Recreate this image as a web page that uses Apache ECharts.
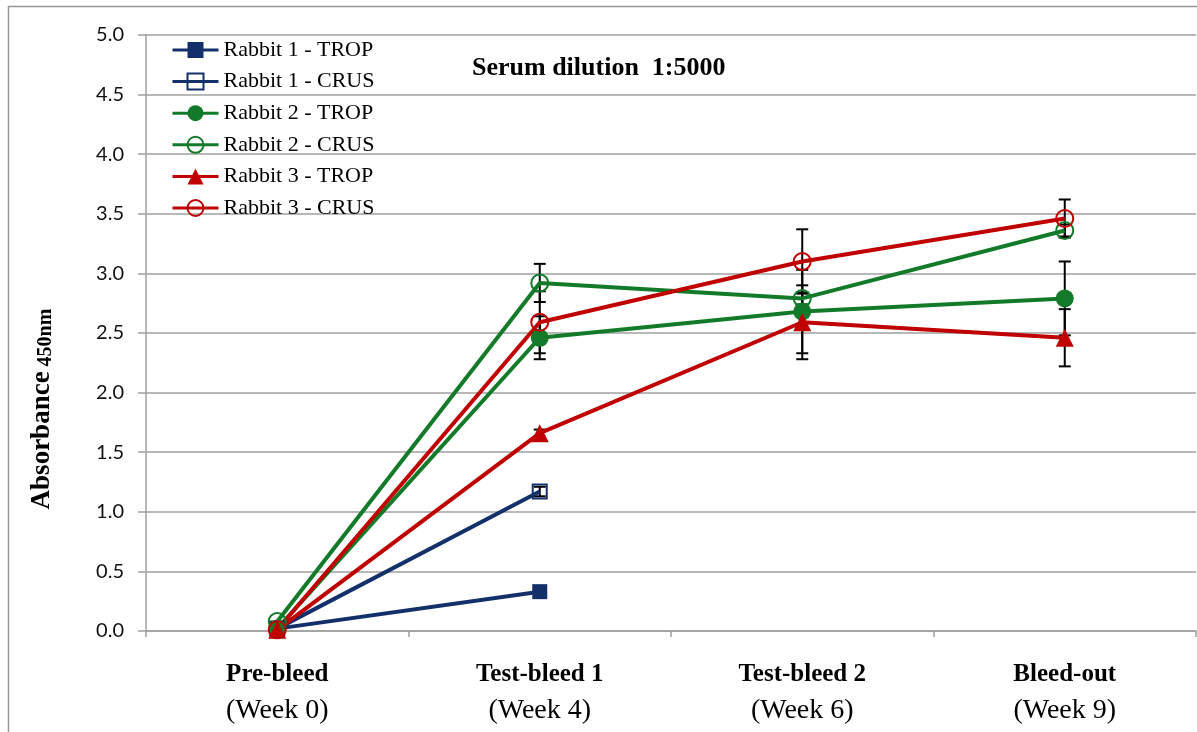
<!DOCTYPE html>
<html>
<head>
<meta charset="utf-8">
<script src="https://cdn.jsdelivr.net/npm/echarts@6/dist/echarts.min.js"></script>
<style>
  html, body { margin: 0; padding: 0; background: #fff; }
  #chart { width: 1197px; height: 732px; }
</style>
</head>
<body>
<div id="chart"></div>
<script>
// Bleed time points (bold name + week)
const bleedNames = ['Pre-bleed', 'Test-bleed 1', 'Test-bleed 2', 'Bleed-out'];
const bleedWeeks = ['(Week 0)', '(Week 4)', '(Week 6)', '(Week 9)'];

// Mean absorbance at 450 nm per rabbit / antigen
const r1Trop = [0.02, 0.33, null, null];
const r1Crus = [0.02, 1.17, null, null];
const r2Trop = [0.02, 2.46, 2.68, 2.79];
const r2Crus = [0.08, 2.92, 2.79, 3.36];
const r3Trop = [0.01, 1.66, 2.59, 2.46];
const r3Crus = [0.01, 2.59, 3.10, 3.46];

// Standard deviations (error bar half-widths)
const r1TropErr = [null, 0.02, null, null];
const r1CrusErr = [null, 0.04, null, null];
const r2TropErr = [null, 0.18, 0.35, 0.31];
const r2CrusErr = [null, 0.16, 0.05, 0.05];
const r3TropErr = [null, 0.03, 0.31, 0.24];
const r3CrusErr = [null, 0.26, 0.27, 0.16];

const yTicks = [0, 0.5, 1, 1.5, 2, 2.5, 3, 3.5, 4, 4.5, 5];

const NAVY = '#14306b';
const GREEN = '#137a2a';
const RED = '#c00000';
const GRID = '#a0a0a0';

const seriesDefs = [
  { name: 'Rabbit 1 - TROP', values: r1Trop, errs: r1TropErr, color: NAVY, symbol: 'rect', size: 15, hollow: false },
  { name: 'Rabbit 1 - CRUS', values: r1Crus, errs: r1CrusErr, color: NAVY, symbol: 'rect', size: 14, hollow: true },
  { name: 'Rabbit 2 - TROP', values: r2Trop, errs: r2TropErr, color: GREEN, symbol: 'circle', size: 18, hollow: false },
  { name: 'Rabbit 2 - CRUS', values: r2Crus, errs: r2CrusErr, color: GREEN, symbol: 'circle', size: 17, hollow: true },
  { name: 'Rabbit 3 - TROP', values: r3Trop, errs: r3TropErr, color: RED, symbol: 'triangle', size: 18, hollow: false },
  { name: 'Rabbit 3 - CRUS', values: r3Crus, errs: r3CrusErr, color: RED, symbol: 'circle', size: 17, hollow: true }
];

// Flatten error bars into [categoryIndex, low, high]
const errorData = [];
seriesDefs.forEach(function (s) {
  s.values.forEach(function (v, i) {
    const e = s.errs[i];
    if (v != null && e != null) errorData.push([i, v - e, v + e]);
  });
});

const lineSeries = seriesDefs.map(function (s) {
  return {
    name: s.name,
    type: 'line',
    data: s.values,
    symbol: s.symbol,
    symbolSize: s.size,
    showAllSymbol: true,
    connectNulls: false,
    z: 3,
    lineStyle: { color: s.color, width: 4 },
    itemStyle: s.hollow
      ? { color: 'rgba(255,255,255,0)', borderColor: s.color, borderWidth: 2 }
      : { color: s.color, borderColor: s.color, borderWidth: 0 },
    emphasis: { disabled: true }
  };
});

const errorSeries = {
  type: 'custom',
  name: 'sd',
  z: 2,
  silent: true,
  encode: { x: 0, y: [1, 2] },
  data: errorData,
  renderItem: function (params, api) {
    const x = api.value(0);
    const lo = api.coord([x, api.value(1)]);
    const hi = api.coord([x, api.value(2)]);
    const cap = 6;
    const st = { stroke: '#000', lineWidth: 2 };
    return {
      type: 'group',
      children: [
        { type: 'line', shape: { x1: lo[0], y1: lo[1], x2: hi[0], y2: hi[1] }, style: st },
        { type: 'line', shape: { x1: lo[0] - cap, y1: lo[1], x2: lo[0] + cap, y2: lo[1] }, style: st },
        { type: 'line', shape: { x1: hi[0] - cap, y1: hi[1], x2: hi[0] + cap, y2: hi[1] }, style: st }
      ]
    };
  }
};

const chart = echarts.init(document.getElementById('chart'), null, { renderer: 'canvas' });

chart.setOption({
  backgroundColor: '#fff',
  animation: false,
  grid: { left: 146, right: 1, top: 35, bottom: 101, containLabel: false },
  legend: {
    data: seriesDefs.map(function (s) { return s.name; }),
    orient: 'vertical',
    left: 166,
    top: 34,
    itemWidth: 46,
    itemHeight: 20,
    itemGap: 9.6,
    selectedMode: false,
    lineStyle: { width: 3 },
    textStyle: { fontFamily: 'Liberation Serif', fontSize: 22, color: '#000', lineHeight: 22 }
  },
  xAxis: {
    type: 'category',
    data: bleedNames.map(function (n, i) { return n + '\n' + bleedWeeks[i]; }),
    boundaryGap: true,
    axisLine: { lineStyle: { color: GRID, width: 1.5 } },
    axisTick: { show: true, length: 6, inside: false, lineStyle: { color: GRID, width: 1.5 } },
    axisLabel: {
      margin: 27,
      interval: 0,
      formatter: function (val) {
        const parts = val.split('\n');
        return '{b|' + parts[0] + '}\n{n|' + parts[1] + '}';
      },
      rich: {
        b: { fontFamily: 'Liberation Serif', fontWeight: 'bold', fontSize: 25, color: '#000', lineHeight: 34 },
        n: { fontFamily: 'Liberation Serif', fontSize: 28, color: '#000', lineHeight: 38 }
      }
    },
    splitLine: { show: false }
  },
  yAxis: {
    type: 'value',
    min: yTicks[0],
    max: yTicks[yTicks.length - 1],
    interval: yTicks[1] - yTicks[0],
    axisLine: { show: true, lineStyle: { color: GRID, width: 1.5 } },
    axisTick: { show: true, length: 8, inside: false, lineStyle: { color: GRID, width: 1.5 } },
    axisLabel: {
      margin: 22,
      fontFamily: 'Lato',
      fontSize: 20,
      color: '#111',
      formatter: function (v) { return v.toFixed(1); }
    },
    splitLine: { show: true, lineStyle: { color: GRID, width: 1.5 } }
  },
  graphic: [
    {
      type: 'rect',
      silent: true,
      z: -10,
      shape: { x: 8.5, y: 6.5, width: 1300, height: 800 },
      style: { fill: 'none', stroke: '#999', lineWidth: 1.5 }
    },
    {
      type: 'text',
      silent: true,
      left: 472,
      top: 55,
      style: {
        text: 'Serum dilution  1:5000',
        fontFamily: 'Liberation Serif',
        fontWeight: 'bold',
        fontSize: 26,
        fill: '#000'
      }
    },
    {
      type: 'text',
      silent: true,
      x: 42,
      y: 409,
      rotation: Math.PI / 2,
      style: {
        text: '{a|Absorbance}{s| 450nm}',
        align: 'center',
        verticalAlign: 'middle',
        rich: {
          a: { fontFamily: 'Liberation Serif', fontWeight: 'bold', fontSize: 27, fill: '#000', verticalAlign: 'bottom' },
          s: { fontFamily: 'Liberation Serif', fontWeight: 'bold', fontSize: 20, fill: '#000', verticalAlign: 'bottom' }
        }
      }
    }
  ],
  series: [errorSeries].concat(lineSeries)
});
</script>
</body>
</html>
